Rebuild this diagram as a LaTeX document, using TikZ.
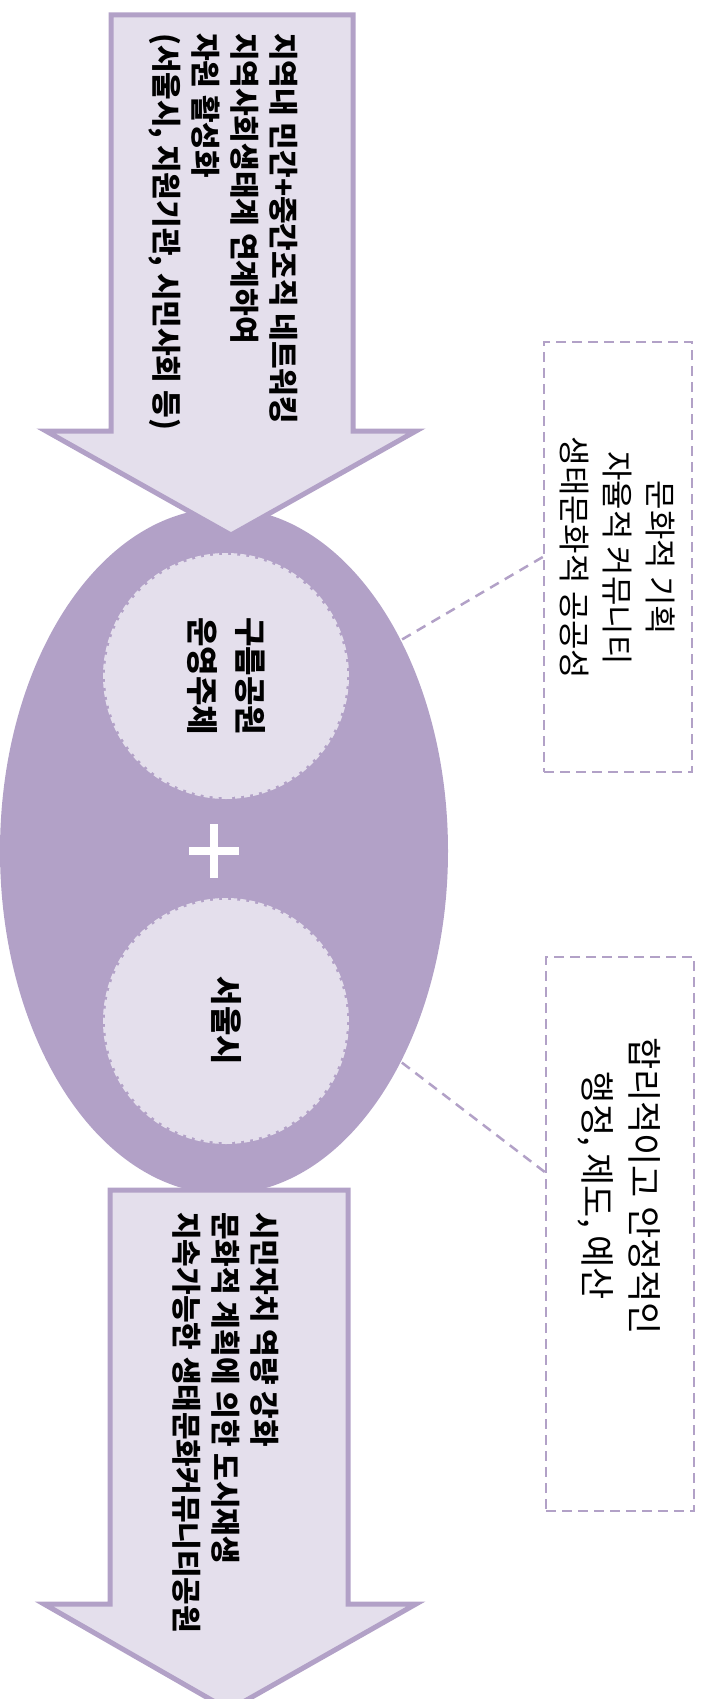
\documentclass[tikz,border=0pt]{standalone}
\usepackage{fontspec}
\setmainfont{Noto Sans CJK KR}
\usetikzlibrary{shapes.geometric}
\definecolor{purp}{HTML}{B2A1C7}
\definecolor{lite}{HTML}{E4DFEC}
\begin{document}
\begin{tikzpicture}[x=1pt,y=-1pt,
  bigarrow/.style={fill=lite, draw=purp, line width=5pt, line join=miter},
  arrowtext/.style={rotate=-90, anchor=west, align=left, inner sep=0pt,
    font=\fontsize{30}{39}\selectfont\bfseries},
  innercircle/.style={circle, fill=lite, draw=lite, line width=4pt,
    dash pattern=on 6pt off 3pt, minimum size=242pt, inner sep=0pt,
    rotate=-90, align=center, font=\fontsize{32}{48}\selectfont\bfseries},
  infobox/.style={draw=purp, line width=2.5pt, dash pattern=on 10pt off 6pt,
    minimum width=148pt, inner sep=0pt},
  boxtext/.style={rotate=-90, align=center, inner sep=0pt},
  conn/.style={draw=purp, line width=2.5pt, dash pattern=on 10pt off 7pt},
  plusbar/.style={draw=white, line width=8pt}
]
\useasboundingbox (0,0) rectangle (705,1699);
\clip (0,0) rectangle (705,1699);

% central ellipse
\node[ellipse, fill=purp, draw=none, minimum width=448pt, minimum height=686pt,
  inner sep=0pt] (ell) at (224,851) {};

% inner circles
\node[innercircle] (c1) at (226,676) {구름공원\\운영주체};
\node[innercircle] (c2) at (226,1021) {서울시};

% plus sign
\coordinate (pc) at (214,851);
\draw[plusbar] ([xshift=-25pt]pc) -- ([xshift=25pt]pc);
\draw[plusbar] ([yshift=-27pt]pc) -- ([yshift=27pt]pc);

% top arrow
\draw[bigarrow] (111,15) -- (353,15) -- (353,431) -- (416,431) -- (231,535)
  -- (46,431) -- (111,431) -- cycle;
\node[arrowtext] (t1) at (223,33) {지역내 민간+중간조직 네트워킹\\지역사회생태계 연계하여\\자원 활성화\\(서울시, 지원기관, 시민사회 등)};

% bottom arrow
\draw[bigarrow] (110,1190) -- (348,1190) -- (348,1604) -- (416,1604) -- (229,1710)
  -- (44,1604) -- (110,1604) -- cycle;
\node[arrowtext] (t2) at (226,1212) {시민자치 역량 강화\\문화적 계획에 의한 도시재생\\지속가능한 생태문화커뮤니티공원};

% right boxes
\node[infobox, minimum height=430pt] (tbox) at (618,557) {};
\node[boxtext, font=\fontsize{32}{43}\selectfont] (tboxtext) at (618,558) {문화적 기획\\자율적 커뮤니티\\생태문화적 공공성};
\node[infobox, minimum height=554pt] (bbox) at (620,1234) {};
\node[boxtext, font=\fontsize{35}{47}\selectfont] (bboxtext) at (619,1186) {합리적이고 안정적인\\행정, 제도, 예산};

% connectors
\draw[conn] (tbox.west) -- (ell.50);
\draw[conn] ([yshift=62pt]bbox.west) -- (ell.-50);
\end{tikzpicture}
\end{document}
